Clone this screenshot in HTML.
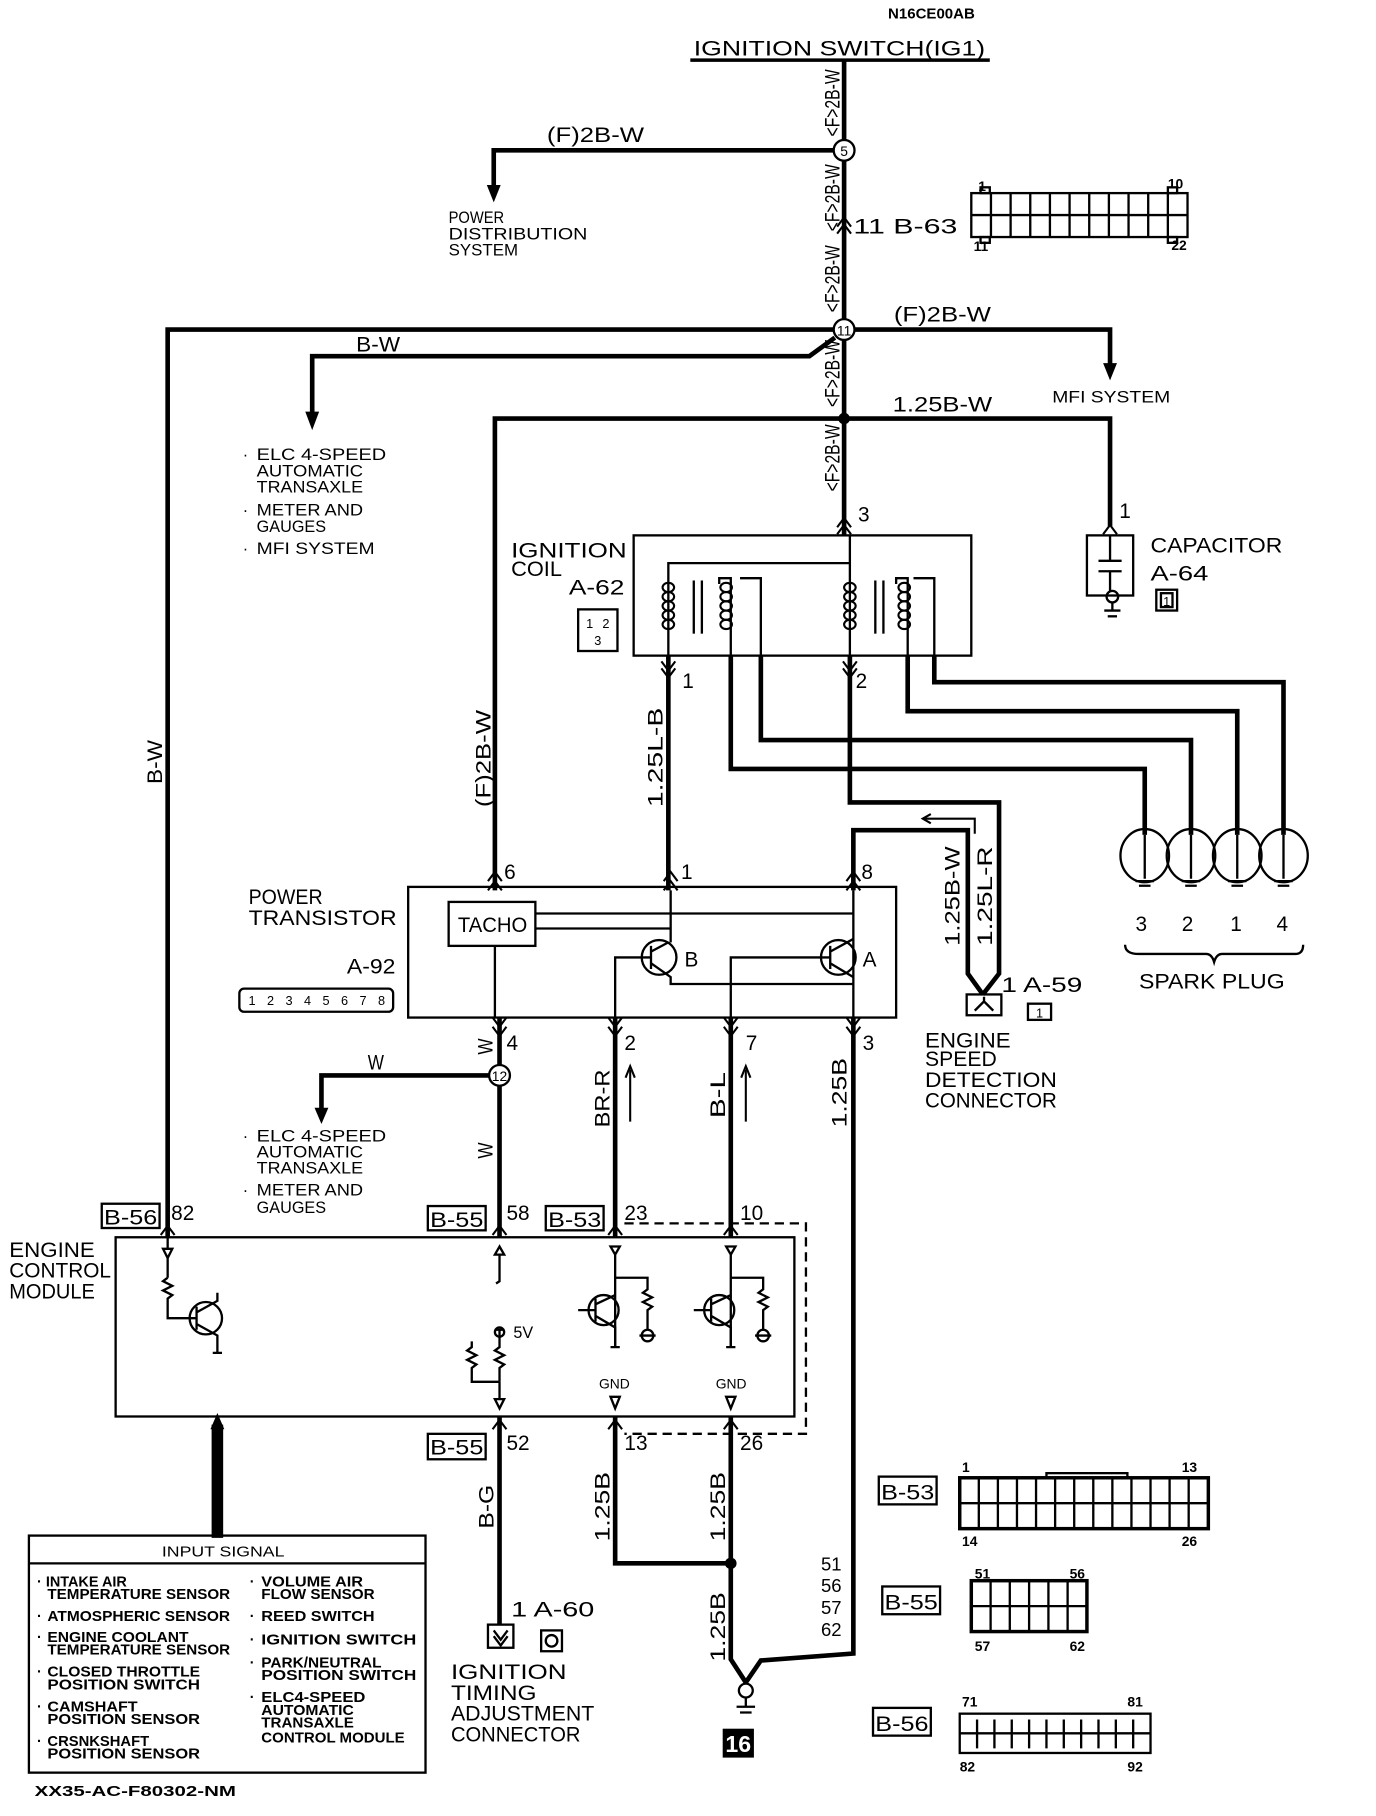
<!DOCTYPE html>
<html><head><meta charset="utf-8"><style>
html,body{margin:0;padding:0;background:#fff;}
svg{display:block;}
text{font-family:"Liberation Sans",sans-serif;fill:#000;}
.t{font-size:18px;}
.s{font-size:14px;}
.b{font-weight:bold;}
</style></head><body>
<svg width="1376" height="1816" viewBox="0 0 1190 1570.5" preserveAspectRatio="none" xmlns="http://www.w3.org/2000/svg">
<g fill="none" stroke="#000" stroke-width="4" stroke-linejoin="miter">
<!-- top switch -->
<line x1="597" y1="52" x2="856" y2="52" stroke-width="3"/>
<line x1="730" y1="52" x2="730" y2="463"/>
<!-- node5 branch -->
<polyline points="722,130 427,130 427,165"/>
<!-- node 11 branches -->
<polyline points="722,285 145,285 145,1070"/>
<polyline points="738,285 960,285 960,318"/>
<polyline points="722,292 700,308 270,308 270,362"/>
<!-- 1.25B-W -->
<polyline points="428,770 428,362 960,362 960,455"/>
<!-- coil outputs -->
<line x1="578" y1="567" x2="578" y2="770"/>
<polyline points="735,567 735,694 864,694 864,842 850,860"/>
<polyline points="738,770 738,718 837,718 837,842 850,860"/>
<polyline points="632,567 632,665 990,665 990,722"/>
<polyline points="658,567 658,640 1030,640 1030,722"/>
<polyline points="785,567 785,615 1070,615 1070,722"/>
<polyline points="808,567 808,590 1110,590 1110,722"/>
<!-- transistor bottom wires -->
<line x1="432" y1="880" x2="432" y2="1070"/>
<polyline points="424,930 278,930 278,962"/>
<line x1="532" y1="880" x2="532" y2="1070"/>
<line x1="632" y1="880" x2="632" y2="1070"/>
<polyline points="738,880 738,1430 658,1436 645,1455"/>
<!-- ECM bottom -->
<line x1="432" y1="1225" x2="432" y2="1405"/>
<polyline points="532,1225 532,1352 632,1352"/>
<polyline points="632,1225 632,1435 645,1455"/>
</g>
<!-- arrowheads -->
<g fill="#000">
<polygon points="421,160 433,160 427,175"/>
<polygon points="954,314 966,314 960,329"/>
<polygon points="264,356 276,356 270,372"/>
<polygon points="272,958 284,958 278,972"/>
<polygon points="183,1232 193,1232 193,1330 183,1330"/>
<polygon points="188,1222 182,1236 194,1236"/>
<circle cx="730" cy="362" r="5"/>
<circle cx="632" cy="1352" r="5"/>
</g>
<!-- nodes -->
<g fill="#fff" stroke="#000" stroke-width="2">
<circle cx="730" cy="130" r="9"/>
<circle cx="730" cy="285" r="9"/>
<circle cx="432" cy="930" r="9"/>
</g>
<text x="730" y="135" font-size="12" text-anchor="middle">5</text>
<text x="730" y="290" font-size="12" text-anchor="middle">11</text>
<text x="432" y="935" font-size="12" text-anchor="middle">12</text>
<!-- chevrons -->
<g fill="none" stroke="#000" stroke-width="1.8">
<path d="M724,196 L730,188 L736,196 M724,202 L730,194 L736,202"/>
<path d="M724,456 L730,448 L736,456 M724,462 L730,454 L736,462"/>
<path d="M954,462 L960,454 L966,462"/>
<path d="M572,572 L578,580 L584,572 M572,578 L578,586 L584,578"/>
<path d="M729,572 L735,580 L741,572 M729,578 L735,586 L741,578"/>
<path d="M422,762 L428,754 L434,762 M422,770 L428,762 L434,770"/>
<path d="M574,762 L580,754 L586,762 M574,770 L580,762 L586,770"/>
<path d="M732,762 L738,754 L744,762 M732,770 L738,762 L744,770"/>
<path d="M426,880 L432,888 L438,880 M426,888 L432,896 L438,888"/>
<path d="M526,880 L532,888 L538,880 M526,888 L532,896 L538,888"/>
<path d="M626,880 L632,888 L638,880 M626,888 L632,896 L638,888"/>
<path d="M732,880 L738,888 L744,880 M732,888 L738,896 L744,888"/>
<path d="M139,1068 L145,1060 L151,1068"/>
<path d="M426,1068 L432,1060 L438,1068"/>
<path d="M526,1068 L532,1060 L538,1068"/>
<path d="M626,1068 L632,1060 L638,1068"/>
<path d="M426,1236 L432,1228 L438,1236"/>
<path d="M526,1236 L532,1228 L538,1236"/>
<path d="M626,1236 L632,1228 L638,1236"/>
<line x1="545" y1="970" x2="545" y2="925"/><path d="M541,932 L545,922 L549,932"/>
<line x1="645" y1="970" x2="645" y2="925"/><path d="M641,932 L645,922 L649,932"/>
<polyline points="798,708 843,708 843,721"/><path d="M805,704 L798,708 L805,712"/>
</g>
<!-- ignition coil box -->
<g fill="none" stroke="#000" stroke-width="2">
<rect x="548" y="463" width="292" height="104"/>
<polyline points="578,567 578,487 735,487"/>
<line x1="735" y1="463" x2="735" y2="567"/>
<line x1="600" y1="502" x2="600" y2="548"/><line x1="607" y1="502" x2="607" y2="548"/>
<line x1="757" y1="502" x2="757" y2="548"/><line x1="764" y1="502" x2="764" y2="548"/>
<polyline points="632,567 632,500 622,500 622,505"/>
<polyline points="658,567 658,500 640,500"/>
<polyline points="785,567 785,500 775,500 775,505"/>
<polyline points="808,567 808,500 790,500"/>
<g stroke-width="1.8">
<ellipse cx="578" cy="508" rx="5" ry="4"/><ellipse cx="578" cy="516" rx="5" ry="4"/><ellipse cx="578" cy="524" rx="5" ry="4"/><ellipse cx="578" cy="532" rx="5" ry="4"/><ellipse cx="578" cy="540" rx="5" ry="4"/>
<ellipse cx="628" cy="508" rx="5" ry="4"/><ellipse cx="628" cy="516" rx="5" ry="4"/><ellipse cx="628" cy="524" rx="5" ry="4"/><ellipse cx="628" cy="532" rx="5" ry="4"/><ellipse cx="628" cy="540" rx="5" ry="4"/>
<ellipse cx="735" cy="508" rx="5" ry="4"/><ellipse cx="735" cy="516" rx="5" ry="4"/><ellipse cx="735" cy="524" rx="5" ry="4"/><ellipse cx="735" cy="532" rx="5" ry="4"/><ellipse cx="735" cy="540" rx="5" ry="4"/>
<ellipse cx="782" cy="508" rx="5" ry="4"/><ellipse cx="782" cy="516" rx="5" ry="4"/><ellipse cx="782" cy="524" rx="5" ry="4"/><ellipse cx="782" cy="532" rx="5" ry="4"/><ellipse cx="782" cy="540" rx="5" ry="4"/>
</g>
<!-- A-62 icon -->
<rect x="500" y="527" width="34" height="36"/>
<!-- capacitor -->
<rect x="940" y="463" width="40" height="52"/>
<line x1="960" y1="463" x2="960" y2="485"/><line x1="950" y1="485" x2="970" y2="485"/>
<line x1="950" y1="494" x2="970" y2="494"/><line x1="960" y1="494" x2="960" y2="512"/>
<circle cx="962" cy="516" r="5"/>
<line x1="962" y1="521" x2="962" y2="528"/><line x1="955" y1="528" x2="969" y2="528"/><line x1="958" y1="533" x2="966" y2="533"/>
<rect x="1000" y="510" width="18" height="18"/><rect x="1004" y="513" width="10" height="12"/>
<!-- B-63 connector -->
<rect x="840" y="167" width="187" height="38"/>
<line x1="840" y1="186" x2="1027" y2="186"/>
<path d="M857,167V205M874,167V205M891,167V205M908,167V205M925,167V205M942,167V205M959,167V205M976,167V205M993,167V205M1010,167V205"/>
<rect x="848" y="162" width="8" height="5"/><rect x="1010" y="162" width="8" height="5"/>
<rect x="848" y="205" width="8" height="5"/><rect x="1010" y="205" width="8" height="5"/>
<!-- spark plugs -->
<ellipse cx="990" cy="740" rx="21" ry="23"/><ellipse cx="1030" cy="740" rx="21" ry="23"/>
<ellipse cx="1070" cy="740" rx="21" ry="23"/><ellipse cx="1110" cy="740" rx="21" ry="23"/>
<path d="M990,722V760M982,762H998M985,766H995M1030,722V760M1022,762H1038M1025,766H1035M1070,722V760M1062,762H1078M1065,766H1075M1110,722V760M1102,762H1118M1105,766H1115"/>
<path d="M973,817 Q973,825 985,825 H1043 Q1048,825 1050,832 Q1052,825 1057,825 H1120 Q1127,825 1127,817"/>
<!-- power transistor -->
<rect x="353" y="767" width="422" height="113"/>
<rect x="388" y="780" width="75" height="38"/>
<line x1="463" y1="790" x2="738" y2="790"/>
<line x1="463" y1="803" x2="580" y2="803"/>
<line x1="580" y1="770" x2="580" y2="815"/>
<line x1="738" y1="770" x2="738" y2="880"/>
<line x1="428" y1="818" x2="428" y2="880"/>
<circle cx="570" cy="828" r="15"/><circle cx="725" cy="828" r="15"/>
<path d="M563,818V838M563,828H532V880M563,823L578,815M563,833L580,845V851H738"/>
<path d="M718,818V838M718,828H632V880M718,823L738,812M718,833L738,845"/>
<rect x="207" y="855" width="133" height="20" rx="4"/>
<!-- engine speed connector -->
<rect x="836" y="860" width="30" height="18"/>
<path d="M843,874 L851,866 L859,874 M851,866V862"/>
<rect x="889" y="868" width="20" height="14"/>
<!-- ECM -->
<rect x="100" y="1070" width="587" height="155"/>
<path d="M540,1058 H697 V1240 H540" stroke-dasharray="8,5"/>
<path d="M145,1070V1080M141,1080H149L145,1088ZM145,1088V1105"/>
<path d="M145,1105l-4,3l8,4l-8,4l8,4l-4,3V1140H170"/>
<circle cx="178" cy="1140" r="14"/>
<path d="M170,1130V1150M170,1135L188,1125V1118M170,1145L188,1155V1170M184,1170H192"/>
<path d="M432,1078L428,1085H436ZM432,1085V1108l-3,2"/>
<path d="M432,1150V1158M428,1150H436M432,1158V1165l-4,3l8,4l-8,4l8,4l-4,3V1195"/>
<path d="M408,1160V1165l-4,3l8,4l-8,4l8,4l-4,3V1195H432"/>
<circle cx="432" cy="1152" r="4"/>
<path d="M432,1195V1210M428,1210H436L432,1218Z"/>
<path d="M532,1085L528,1078H536ZM532,1085V1165"/>
<circle cx="522" cy="1133" r="13"/>
<path d="M515,1123V1143M515,1133H500M515,1128L532,1120M515,1138L532,1148V1165M528,1165H536"/>
<path d="M532,1105H560V1115l-4,3l8,4l-8,4l8,4l-4,3V1150"/>
<circle cx="560" cy="1155" r="5"/><line x1="553" y1="1155" x2="567" y2="1155"/>
<path d="M632,1085L628,1078H636ZM632,1085V1165"/>
<circle cx="622" cy="1133" r="13"/>
<path d="M615,1123V1143M615,1133H600M615,1128L632,1120M615,1138L632,1148V1165M628,1165H636"/>
<path d="M632,1105H660V1115l-4,3l8,4l-8,4l8,4l-4,3V1150"/>
<circle cx="660" cy="1155" r="5"/><line x1="653" y1="1155" x2="667" y2="1155"/>
<path d="M532,1218L528,1208H536ZM632,1218L628,1208H636Z"/>
<!-- connector labels -->
<rect x="88" y="1041" width="50" height="21"/><rect x="370" y="1043" width="50" height="21"/>
<rect x="472" y="1043" width="50" height="21"/><rect x="370" y="1240" width="50" height="22"/>
<rect x="760" y="1277" width="50" height="24"/><rect x="763" y="1372" width="50" height="24"/><rect x="755" y="1477" width="50" height="24"/>
<!-- A-60 -->
<rect x="422" y="1405" width="22" height="20"/><path d="M427,1410L433,1418L439,1410M427,1415L433,1423L439,1415"/>
<rect x="468" y="1410" width="18" height="18"/><circle cx="477" cy="1419" r="5"/>
<!-- ground 16 -->
<circle cx="645" cy="1462" r="6"/><path d="M645,1468V1476M637,1476H653M640,1481H650"/>
<!-- input signal -->
<rect x="25" y="1328" width="343" height="205"/><line x1="25" y1="1352" x2="368" y2="1352"/>
<!-- bottom connectors -->
<rect x="830" y="1278" width="215" height="44" stroke-width="3"/>
<line x1="830" y1="1300" x2="1045" y2="1300"/>
<path d="M846.5,1278V1322M863,1278V1322M879.5,1278V1322M896,1278V1322M912.5,1278V1322M929,1278V1322M945.5,1278V1322M962,1278V1322M978.5,1278V1322M995,1278V1322M1011.5,1278V1322M1028,1278V1322"/>
<rect x="905" y="1274" width="70" height="4"/>
<rect x="840" y="1367" width="100" height="44" stroke-width="3"/>
<line x1="840" y1="1389" x2="940" y2="1389"/>
<path d="M856.7,1367V1411M873.3,1367V1411M890,1367V1411M906.7,1367V1411M923.3,1367V1411"/>
<rect x="830" y="1482" width="165" height="34"/>
<path d="M845,1487V1512M860,1487V1512M875,1487V1512M890,1487V1512M905,1487V1512M920,1487V1512M935,1487V1512M950,1487V1512M965,1487V1512M980,1487V1512M830,1499H995"/>
</g>
<!-- 16 box -->
<rect x="625" y="1495" width="27" height="25" fill="#000"/>
<text x="638.5" y="1515" font-size="20" font-weight="bold" text-anchor="middle" style="fill:#fff">16</text>
<!-- A-92 pin icons -->
<g font-size="11" text-anchor="middle">
<text x="218" y="869">1</text><text x="234" y="869">2</text><text x="250" y="869">3</text><text x="266" y="869">4</text><text x="282" y="869">5</text><text x="298" y="869">6</text><text x="314" y="869">7</text><text x="330" y="869">8</text>
<text x="510" y="543">1</text><text x="524" y="543">2</text><text x="517" y="558">3</text>
<text x="1009" y="524">1</text>
<text x="899" y="880">1</text>
</g>
<!-- text labels -->
<g class="t">
<text x="768" y="16" font-size="13" class="b">N16CE00AB</text>
<text x="600" y="48" textLength="252" lengthAdjust="spacingAndGlyphs">IGNITION SWITCH(IG1)</text>
<text x="473" y="123" textLength="84" lengthAdjust="spacingAndGlyphs">(F)2B-W</text>
<text x="773" y="278" textLength="84" lengthAdjust="spacingAndGlyphs">(F)2B-W</text>
<text x="308" y="304" textLength="38" lengthAdjust="spacingAndGlyphs">B-W</text>
<text x="772" y="356" textLength="86" lengthAdjust="spacingAndGlyphs">1.25B-W</text>
<text x="738" y="202" textLength="90" lengthAdjust="spacingAndGlyphs">11 B-63</text>
<text x="742" y="451">3</text>
<text x="968" y="448">1</text>
<text x="590" y="595">1</text><text x="740" y="595">2</text>
<text x="436" y="760">6</text><text x="589" y="760">1</text><text x="745" y="760">8</text>
<text x="438" y="908">4</text><text x="540" y="908">2</text><text x="645" y="908">7</text><text x="746" y="908">3</text>
<text x="148" y="1055">82</text><text x="438" y="1055">58</text><text x="540" y="1055">23</text><text x="640" y="1055">10</text>
<text x="438" y="1254">52</text><text x="540" y="1254">13</text><text x="640" y="1254">26</text>
<text x="442" y="1398" textLength="72" lengthAdjust="spacingAndGlyphs">1 A-60</text>
<text x="866" y="858" textLength="70" lengthAdjust="spacingAndGlyphs">1 A-59</text>
<text x="442" y="482" textLength="100" lengthAdjust="spacingAndGlyphs">IGNITION</text>
<text x="442" y="498" textLength="44" lengthAdjust="spacingAndGlyphs">COIL</text>
<text x="492" y="514" textLength="48" lengthAdjust="spacingAndGlyphs">A-62</text>
<text x="995" y="478" textLength="114" lengthAdjust="spacingAndGlyphs">CAPACITOR</text>
<text x="995" y="502" textLength="50" lengthAdjust="spacingAndGlyphs">A-64</text>
<text x="215" y="782" textLength="64" lengthAdjust="spacingAndGlyphs">POWER</text>
<text x="215" y="800" textLength="128" lengthAdjust="spacingAndGlyphs">TRANSISTOR</text>
<text x="300" y="842" textLength="42" lengthAdjust="spacingAndGlyphs">A-92</text>
<text x="396" y="806" textLength="60" lengthAdjust="spacingAndGlyphs">TACHO</text>
<text x="592" y="836">B</text><text x="746" y="836">A</text>
<text x="982" y="805">3</text><text x="1022" y="805">2</text><text x="1064" y="805">1</text><text x="1104" y="805">4</text>
<text x="985" y="855" textLength="126" lengthAdjust="spacingAndGlyphs">SPARK PLUG</text>
<text x="800" y="906" textLength="74" lengthAdjust="spacingAndGlyphs">ENGINE</text>
<text x="800" y="922" textLength="62" lengthAdjust="spacingAndGlyphs">SPEED</text>
<text x="800" y="940" textLength="114" lengthAdjust="spacingAndGlyphs">DETECTION</text>
<text x="800" y="958" textLength="114" lengthAdjust="spacingAndGlyphs">CONNECTOR</text>
<text x="318" y="925" textLength="14" lengthAdjust="spacingAndGlyphs">W</text>
<text x="8" y="1087" textLength="74" lengthAdjust="spacingAndGlyphs">ENGINE</text>
<text x="8" y="1105" textLength="88" lengthAdjust="spacingAndGlyphs">CONTROL</text>
<text x="8" y="1123" textLength="74" lengthAdjust="spacingAndGlyphs">MODULE</text>
<text x="390" y="1452" textLength="100" lengthAdjust="spacingAndGlyphs">IGNITION</text>
<text x="390" y="1470" textLength="74" lengthAdjust="spacingAndGlyphs">TIMING</text>
<text x="390" y="1488" textLength="124" lengthAdjust="spacingAndGlyphs">ADJUSTMENT</text>
<text x="390" y="1506" textLength="112" lengthAdjust="spacingAndGlyphs">CONNECTOR</text>
<text x="710" y="1358" font-size="16">51</text><text x="710" y="1377" font-size="16">56</text><text x="710" y="1396" font-size="16">57</text><text x="710" y="1415" font-size="16">62</text>
<text x="90" y="1059" textLength="46" lengthAdjust="spacingAndGlyphs">B-56</text>
<text x="372" y="1061" textLength="46" lengthAdjust="spacingAndGlyphs">B-55</text>
<text x="474" y="1061" textLength="46" lengthAdjust="spacingAndGlyphs">B-53</text>
<text x="372" y="1258" textLength="46" lengthAdjust="spacingAndGlyphs">B-55</text>
<text x="762" y="1297" textLength="46" lengthAdjust="spacingAndGlyphs">B-53</text>
<text x="765" y="1392" textLength="46" lengthAdjust="spacingAndGlyphs">B-55</text>
<text x="757" y="1497" textLength="46" lengthAdjust="spacingAndGlyphs">B-56</text>
</g>
<g class="s">
<text x="388" y="193" textLength="48" lengthAdjust="spacingAndGlyphs">POWER</text>
<text x="388" y="207" textLength="120" lengthAdjust="spacingAndGlyphs">DISTRIBUTION</text>
<text x="388" y="221" textLength="60" lengthAdjust="spacingAndGlyphs">SYSTEM</text>
<text x="910" y="348" textLength="102" lengthAdjust="spacingAndGlyphs">MFI SYSTEM</text>
<text x="210" y="398">·</text><text x="222" y="398" textLength="112" lengthAdjust="spacingAndGlyphs">ELC 4-SPEED</text>
<text x="222" y="412" textLength="92" lengthAdjust="spacingAndGlyphs">AUTOMATIC</text>
<text x="222" y="426" textLength="92" lengthAdjust="spacingAndGlyphs">TRANSAXLE</text>
<text x="210" y="446">·</text><text x="222" y="446" textLength="92" lengthAdjust="spacingAndGlyphs">METER AND</text>
<text x="222" y="460" textLength="60" lengthAdjust="spacingAndGlyphs">GAUGES</text>
<text x="210" y="479">·</text><text x="222" y="479" textLength="102" lengthAdjust="spacingAndGlyphs">MFI SYSTEM</text>
<text x="210" y="987">·</text><text x="222" y="987" textLength="112" lengthAdjust="spacingAndGlyphs">ELC 4-SPEED</text>
<text x="222" y="1001" textLength="92" lengthAdjust="spacingAndGlyphs">AUTOMATIC</text>
<text x="222" y="1015" textLength="92" lengthAdjust="spacingAndGlyphs">TRANSAXLE</text>
<text x="210" y="1034">·</text><text x="222" y="1034" textLength="92" lengthAdjust="spacingAndGlyphs">METER AND</text>
<text x="222" y="1049" textLength="60" lengthAdjust="spacingAndGlyphs">GAUGES</text>
<text x="444" y="1157">5V</text>
<text x="518" y="1201" font-size="12">GND</text><text x="619" y="1201" font-size="12">GND</text>
<text x="846" y="165" font-size="12" class="b">1</text><text x="1010" y="163" font-size="12" class="b">10</text>
<text x="842" y="217" font-size="12" class="b">11</text><text x="1013" y="216" font-size="12" class="b">22</text>
<text x="832" y="1273" font-size="12" class="b">1</text><text x="1022" y="1273" font-size="12" class="b">13</text>
<text x="832" y="1337" font-size="12" class="b">14</text><text x="1022" y="1337" font-size="12" class="b">26</text>
<text x="843" y="1365" font-size="12" class="b">51</text><text x="925" y="1365" font-size="12" class="b">56</text>
<text x="843" y="1428" font-size="12" class="b">57</text><text x="925" y="1428" font-size="12" class="b">62</text>
<text x="832" y="1476" font-size="12" class="b">71</text><text x="975" y="1476" font-size="12" class="b">81</text>
<text x="830" y="1532" font-size="12" class="b">82</text><text x="975" y="1532" font-size="12" class="b">92</text>
<text x="140" y="1346" textLength="106" lengthAdjust="spacingAndGlyphs" font-size="13">INPUT SIGNAL</text>
</g>
<g font-size="12.5" font-weight="bold">
<text x="32" y="1372">· INTAKE AIR</text><text x="41" y="1383" textLength="158" lengthAdjust="spacingAndGlyphs">TEMPERATURE SENSOR</text>
<text x="32" y="1402">·</text><text x="41" y="1402" textLength="158" lengthAdjust="spacingAndGlyphs">ATMOSPHERIC SENSOR</text>
<text x="32" y="1420">·</text><text x="41" y="1420" textLength="122" lengthAdjust="spacingAndGlyphs">ENGINE COOLANT</text><text x="41" y="1431" textLength="158" lengthAdjust="spacingAndGlyphs">TEMPERATURE SENSOR</text>
<text x="32" y="1450">·</text><text x="41" y="1450" textLength="132" lengthAdjust="spacingAndGlyphs">CLOSED THROTTLE</text><text x="41" y="1461" textLength="132" lengthAdjust="spacingAndGlyphs">POSITION SWITCH</text>
<text x="32" y="1480">·</text><text x="41" y="1480" textLength="78" lengthAdjust="spacingAndGlyphs">CAMSHAFT</text><text x="41" y="1491" textLength="132" lengthAdjust="spacingAndGlyphs">POSITION SENSOR</text>
<text x="32" y="1510">·</text><text x="41" y="1510" textLength="88" lengthAdjust="spacingAndGlyphs">CRSNKSHAFT</text><text x="41" y="1521" textLength="132" lengthAdjust="spacingAndGlyphs">POSITION SENSOR</text>
<text x="216" y="1372">·</text><text x="226" y="1372" textLength="88" lengthAdjust="spacingAndGlyphs">VOLUME AIR</text><text x="226" y="1383" textLength="98" lengthAdjust="spacingAndGlyphs">FLOW SENSOR</text>
<text x="216" y="1402">·</text><text x="226" y="1402" textLength="98" lengthAdjust="spacingAndGlyphs">REED SWITCH</text>
<text x="216" y="1422">·</text><text x="226" y="1422" textLength="134" lengthAdjust="spacingAndGlyphs">IGNITION SWITCH</text>
<text x="216" y="1442">·</text><text x="226" y="1442" textLength="104" lengthAdjust="spacingAndGlyphs">PARK/NEUTRAL</text><text x="226" y="1453" textLength="134" lengthAdjust="spacingAndGlyphs">POSITION SWITCH</text>
<text x="216" y="1472">·</text><text x="226" y="1472" textLength="90" lengthAdjust="spacingAndGlyphs">ELC4-SPEED</text><text x="226" y="1483" textLength="80" lengthAdjust="spacingAndGlyphs">AUTOMATIC</text><text x="226" y="1494" textLength="80" lengthAdjust="spacingAndGlyphs">TRANSAXLE</text><text x="226" y="1507" textLength="124" lengthAdjust="spacingAndGlyphs">CONTROL MODULE</text>
<text x="30" y="1553" font-size="13" textLength="174" lengthAdjust="spacingAndGlyphs">XX35-AC-F80302-NM</text>
</g>
<!-- rotated labels -->
<g class="t">
<text transform="translate(726,118) rotate(-90)" textLength="58" lengthAdjust="spacingAndGlyphs">&lt;F&gt;2B-W</text>
<text transform="translate(726,200) rotate(-90)" textLength="58" lengthAdjust="spacingAndGlyphs">&lt;F&gt;2B-W</text>
<text transform="translate(726,270) rotate(-90)" textLength="58" lengthAdjust="spacingAndGlyphs">&lt;F&gt;2B-W</text>
<text transform="translate(726,352) rotate(-90)" textLength="58" lengthAdjust="spacingAndGlyphs">&lt;F&gt;2B-W</text>
<text transform="translate(726,425) rotate(-90)" textLength="58" lengthAdjust="spacingAndGlyphs">&lt;F&gt;2B-W</text>
<text transform="translate(140,678) rotate(-90)" textLength="38" lengthAdjust="spacingAndGlyphs">B-W</text>
<text transform="translate(424,698) rotate(-90)" textLength="84" lengthAdjust="spacingAndGlyphs">(F)2B-W</text>
<text transform="translate(573,698) rotate(-90)" textLength="86" lengthAdjust="spacingAndGlyphs">1.25L-B</text>
<text transform="translate(830,818) rotate(-90)" textLength="86" lengthAdjust="spacingAndGlyphs">1.25B-W</text>
<text transform="translate(858,818) rotate(-90)" textLength="86" lengthAdjust="spacingAndGlyphs">1.25L-R</text>
<text transform="translate(426,912) rotate(-90)" textLength="14" lengthAdjust="spacingAndGlyphs">W</text>
<text transform="translate(426,1002) rotate(-90)" textLength="14" lengthAdjust="spacingAndGlyphs">W</text>
<text transform="translate(527,975) rotate(-90)" textLength="50" lengthAdjust="spacingAndGlyphs">BR-R</text>
<text transform="translate(627,967) rotate(-90)" textLength="40" lengthAdjust="spacingAndGlyphs">B-L</text>
<text transform="translate(732,975) rotate(-90)" textLength="60" lengthAdjust="spacingAndGlyphs">1.25B</text>
<text transform="translate(427,1322) rotate(-90)" textLength="38" lengthAdjust="spacingAndGlyphs">B-G</text>
<text transform="translate(527,1333) rotate(-90)" textLength="60" lengthAdjust="spacingAndGlyphs">1.25B</text>
<text transform="translate(627,1333) rotate(-90)" textLength="60" lengthAdjust="spacingAndGlyphs">1.25B</text>
<text transform="translate(627,1437) rotate(-90)" textLength="60" lengthAdjust="spacingAndGlyphs">1.25B</text>
</g>
</svg>
</body></html>
